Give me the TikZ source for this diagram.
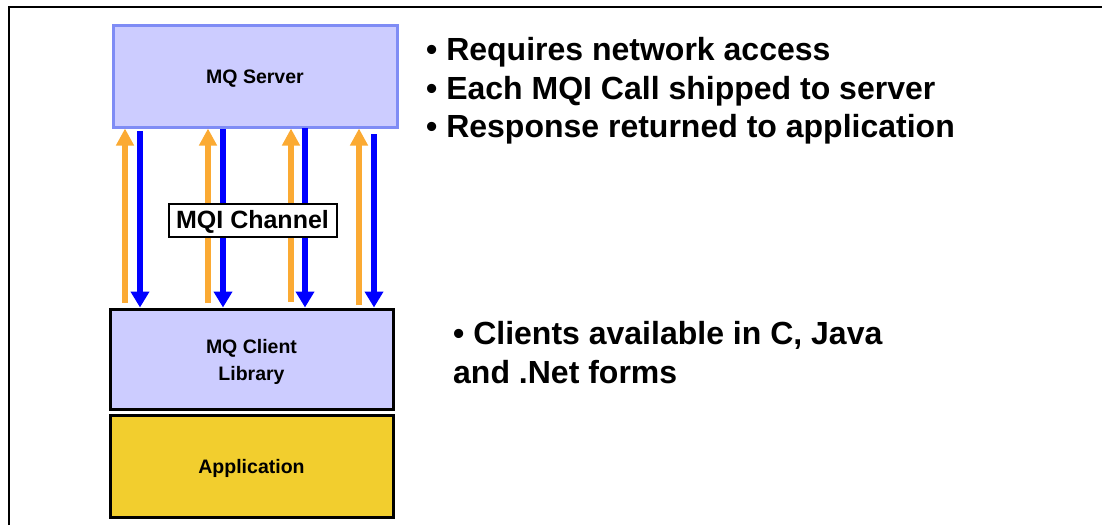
\documentclass[tikz,border=0pt]{standalone}
\usepackage{fontspec}
\setmainfont{Liberation Sans}
\usetikzlibrary{arrows.meta}
\definecolor{boxfill}{HTML}{CCCCFF}
\definecolor{srvline}{HTML}{7F8CF5}
\definecolor{appfill}{HTML}{F2CE2E}
\definecolor{upcol}{HTML}{FBAA33}
\definecolor{downcol}{HTML}{0000FF}
\newcommand{\lowr}[2]{\raisebox{-#1}[\height][\depth]{#2}}
\tikzset{
  layer/.style={draw=black, line width=3pt, fill=boxfill, minimum width=283pt, inner sep=0pt,
    align=center, font=\fontsize{19.5pt}{27pt}\selectfont\bfseries},
  bigtext/.style={anchor=base west, inner sep=0pt, font=\fontsize{32pt}{38pt}\selectfont\bfseries},
  upflow/.style={draw=upcol, line width=6pt, -{Triangle[width=17pt,length=17pt]}},
  downflow/.style={draw=downcol, line width=6pt, -{Triangle[width=18pt,length=16pt]}},
  chanlabel/.style={draw=black, line width=2pt, fill=white, minimum width=168pt, minimum height=33pt,
    inner sep=0pt, font=\fontsize{25pt}{30pt}\selectfont\bfseries}
}
\begin{document}
\begin{tikzpicture}[x=1pt, y=-1pt]
\useasboundingbox (0,0) rectangle (1102,525);
% frame
\coordinate (fb) at (9,525);
\coordinate (fc) at (9,7);
\coordinate (fr) at (1102,7);
\draw[line width=2pt] (fb) -- (fc) -- (fr);
% boxes
\node[layer, draw=srvline, minimum width=284pt, minimum height=102pt] (srv) at (255,76) {\lowr{3pt}{MQ Server}};
\node[layer, minimum height=100pt] (cli) at (251.5,359) {\lowr{3pt}{MQ Client}\\\lowr{3pt}{Library}};
\node[layer, fill=appfill, minimum height=102pt] (app) at (251.5,466) {\lowr{2.5pt}{Application}};
% flow positions
\coordinate (u1) at (125,303); \coordinate (d1) at (140,131);
\coordinate (u2) at (208,303); \coordinate (d2) at (223,129);
\coordinate (u3) at (291,302); \coordinate (d3) at (305,128);
\coordinate (u4) at (359,305); \coordinate (d4) at (374,134);
\draw[upflow] (u1) -- (srv.south -| u1);
\draw[upflow] (u2) -- (srv.south -| u2);
\draw[upflow] (u3) -- (srv.south -| u3);
\draw[upflow] (u4) -- (srv.south -| u4);
\draw[downflow] (d1) -- (cli.north -| d1);
\draw[downflow] (d2) -- (cli.north -| d2);
\draw[downflow] (d3) -- (cli.north -| d3);
\draw[downflow] (d4) -- (cli.north -| d4);
\node[chanlabel] (chan) at (252.5,220) {\lowr{1.5pt}{MQI Channel}};
% text
\node[bigtext] (t1) at (426,60.5) {• Requires network access};
\node[bigtext] (t2) at (426,99) {• Each MQI Call shipped to server};
\node[bigtext] (t3) at (426,137.5) {• Response returned to application};
\node[bigtext] (t4) at (453,344.5) {• Clients available in C, Java};
\node[bigtext] (t5) at (453,383) {and .Net forms};
\end{tikzpicture}
\end{document}
